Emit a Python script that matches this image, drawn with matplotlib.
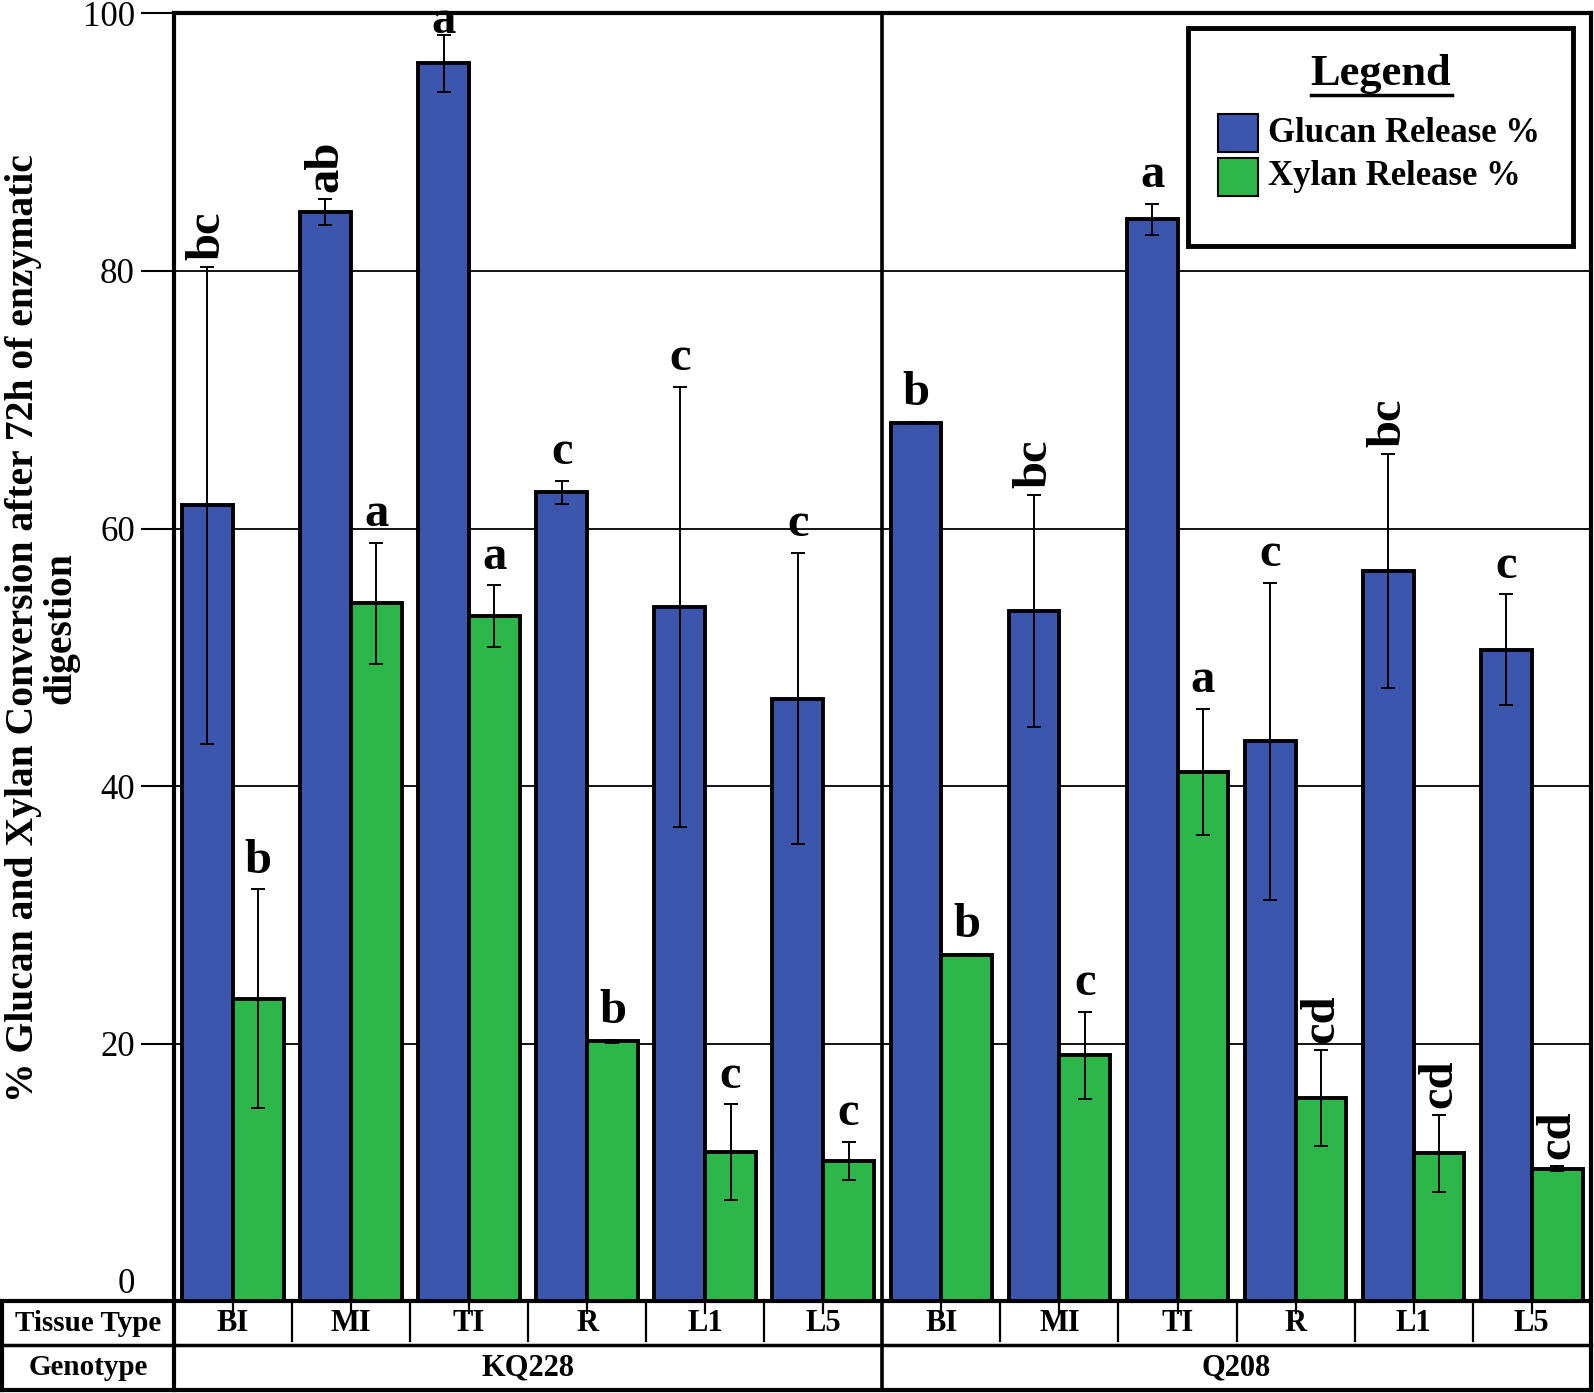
import matplotlib
matplotlib.use('Agg')
import matplotlib.pyplot as plt
from matplotlib.lines import Line2D
from matplotlib.patches import Rectangle
import matplotlib.transforms as mtrans
import numpy as np

plt.rcParams['font.family'] = ['Liberation Serif', 'DejaVu Serif']

genotypes = ['KQ228', 'Q208']
tissues = ['BI', 'MI', 'TI', 'R', 'L1', 'L5']

glucan_kq = [61.8, 84.6, 96.1, 62.8, 53.9, 46.8]
glucan_kq_err = [18.5, 1.0, 2.2, 0.9, 17.1, 11.3]
xylan_kq = [23.5, 54.2, 53.2, 20.2, 11.6, 10.9]
xylan_kq_err = [8.5, 4.7, 2.4, 0.1, 3.7, 1.5]

glucan_q = [68.2, 53.6, 84.0, 43.5, 56.7, 50.6]
glucan_q_err = [0.1, 9.0, 1.2, 12.3, 9.1, 4.3]
xylan_q = [26.9, 19.1, 41.1, 15.8, 11.5, 10.3]
xylan_q_err = [0.1, 3.4, 4.9, 3.7, 3.0, 0.2]

glucan_letters_kq = ['bc', 'ab', 'a', 'c', 'c', 'c']
xylan_letters_kq = ['b', 'a', 'a', 'b', 'c', 'c']
glucan_letters_q = ['b', 'bc', 'a', 'c', 'bc', 'c']
xylan_letters_q = ['b', 'c', 'a', 'cd', 'cd', 'cd']

yticks = [0, 20, 40, 60, 80, 100]
legend_labels = ['Glucan Release %', 'Xylan Release %']
ylabel = '% Glucan and Xylan Conversion after 72h of enzymatic\ndigestion'

BLUE = '#3D56AD'
GREEN = '#2DB74A'

glucan = glucan_kq + glucan_q
glucan_err = glucan_kq_err + glucan_q_err
xylan = xylan_kq + xylan_q
xylan_err = xylan_kq_err + xylan_q_err
g_letters = glucan_letters_kq + glucan_letters_q
x_letters = xylan_letters_kq + xylan_letters_q
n = len(glucan)
centers = np.arange(n) + 0.5
w = 0.43

fig = plt.figure(figsize=(15.94, 13.93), dpi=100)
AX_L, AX_B, AX_R, AX_T = 0.109, 0.0657, 0.998, 0.9905
ax = fig.add_axes([AX_L, AX_B, AX_R - AX_L, AX_T - AX_B])

ax.bar(centers - w / 2, glucan, w, color=BLUE, edgecolor='black', linewidth=2.8, zorder=3)
ax.bar(centers + w / 2, xylan, w, color=GREEN, edgecolor='black', linewidth=2.8, zorder=3)
ax.errorbar(centers - w / 2, glucan, yerr=glucan_err, fmt='none', ecolor='black',
            elinewidth=1.4, capsize=5, capthick=1.4, zorder=4)
ax.errorbar(centers + w / 2, xylan, yerr=xylan_err, fmt='none', ecolor='black',
            elinewidth=1.4, capsize=5, capthick=1.4, zorder=4)

def put_letter(x, top, s):
    top = min(top, 97.2)
    if len(s) > 1:
        ax.annotate(s, (x, top), xytext=(0, 5), textcoords='offset points',
                    rotation=90, ha='center', va='bottom', fontsize=35,
                    fontweight='bold', zorder=5, annotation_clip=False)
    else:
        ax.annotate(s, (x, top), xytext=(0, 12), textcoords='offset points',
                    ha='center', va='baseline', fontsize=35,
                    fontweight='bold', zorder=5, annotation_clip=False)

for i in range(n):
    put_letter(centers[i] - w / 2, glucan[i] + glucan_err[i], g_letters[i])
    put_letter(centers[i] + w / 2, xylan[i] + xylan_err[i], x_letters[i])

ax.set_xlim(0, n)
ax.set_ylim(0, 100)
ax.set_yticks(yticks)
ax.set_yticklabels([str(t) for t in yticks], fontsize=25)
ax.get_yticklabels()[0].set_verticalalignment('bottom')
ax.set_xticks([])
ax.tick_params(axis='y', length=24, width=1.5, pad=4)
ax.yaxis.grid(True, color='black', linewidth=1.3)
ax.set_axisbelow(True)
for s in ax.spines.values():
    s.set_linewidth(3)
    s.set_color('black')

# group divider
ax.axvline(6, color='black', lw=2.6, zorder=2)

# table below the axes
trans = mtrans.blended_transform_factory(ax.transData, fig.transFigure)
TAB_L = 0.0013
ROW1_B = 0.0343
ROW2_B = 0.0022

def fline(xs, ys, lw, tr=fig.transFigure, z=2):
    fig.add_artist(Line2D(xs, ys, color='black', lw=lw, transform=tr,
                          solid_capstyle='projecting', zorder=z))

fline([TAB_L, AX_L], [AX_B, AX_B], 3)
fline([TAB_L, AX_R], [ROW1_B, ROW1_B], 2.5)
fline([TAB_L, AX_R], [ROW2_B, ROW2_B], 3)
fline([TAB_L, TAB_L], [ROW2_B, AX_B], 3)
fline([AX_L, AX_L], [ROW2_B, AX_B], 3)
fline([AX_R, AX_R], [ROW2_B, AX_B], 3)
fline([6, 6], [ROW2_B, AX_B], 2.6, trans)
for b in list(range(1, 6)) + list(range(7, 12)):
    fline([b, b], [ROW1_B + 0.003, AX_B], 1.6, trans)
for c in centers:
    fline([c, c], [AX_B - 0.008, AX_B], 1.6, trans)

row1_y = (AX_B + ROW1_B) / 2
row2_y = (ROW1_B + ROW2_B) / 2
fig.text((TAB_L + AX_L) / 2, row1_y, 'Tissue Type', ha='center', va='center',
         fontsize=21, fontweight='bold')
fig.text((TAB_L + AX_L) / 2, row2_y, 'Genotype', ha='center', va='center',
         fontsize=21, fontweight='bold')
for i, c in enumerate(centers):
    fig.text(c, row1_y, tissues[i % 6], ha='center', va='center', fontsize=22,
             fontweight='bold', transform=trans)
for g, gname in enumerate(genotypes):
    fig.text(3 + 6 * g, row2_y, gname, ha='center', va='center', fontsize=22,
             fontweight='bold', transform=trans)

# y label
fig.text(0.0265, 0.549, ylabel, rotation=90, ha='center', va='center',
         fontsize=28.5, fontweight='bold', linespacing=1.0, multialignment='center')

# legend box
LX0, LX1, LY0, LY1 = 0.745, 0.987, 0.8234, 0.9796
fig.add_artist(Rectangle((LX0, LY0), LX1 - LX0, LY1 - LY0, transform=fig.transFigure,
                         facecolor='white', edgecolor='black', lw=3.5, zorder=10))
fig.text(0.866, 0.9467, 'Legend', ha='center', va='center', fontsize=32,
         fontweight='bold', zorder=11)
fline([0.8227, 0.9107], [0.9315, 0.9315], 2.5, z=12)
for k, (lab, col) in enumerate(zip(legend_labels, [BLUE, GREEN])):
    yc = [0.9044, 0.8730][k]
    fig.add_artist(Rectangle((0.764, yc - 0.0135), 0.0249, 0.027, transform=fig.transFigure,
                             facecolor=col, edgecolor='black', lw=1.5, zorder=11))
    fig.text(0.7953, yc, lab, ha='left', va='center', fontsize=25, fontweight='bold', zorder=11)

fig.savefig('out.png', dpi=100)
